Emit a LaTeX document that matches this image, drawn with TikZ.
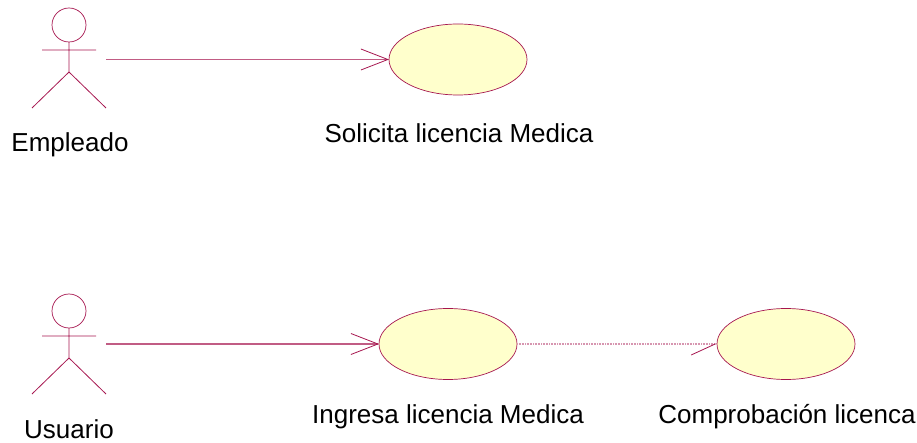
\documentclass[tikz,border=0pt]{standalone}
\usepackage{fontspec}
\setmainfont{Liberation Sans}
\usepackage{xcolor}
\definecolor{umlvien}{HTML}{A6164F}
\definecolor{umlnen}{HTML}{FFFFCC}
\def\mauvien{umlvien}
\def\maunen{umlnen}
\usetikzlibrary{shapes,arrows.meta}
\tikzset{
	usecase/.style={shape=ellipse,draw=\mauvien,fill=\maunen,line width=.7pt,minimum width=138pt,minimum height=71pt,inner sep=0pt,outer sep=0pt},
	head/.style={shape=circle,draw=\mauvien,line width=.7pt,minimum size=34pt,inner sep=0pt,outer sep=0pt},
	limb/.style={draw=\mauvien,line width=.8pt},
	assoc/.style={draw=\mauvien!70,line width=1.2pt,-{Straight Barb[length=27pt,width=21pt,line width=.8pt,\mauvien]}},
	depend/.style={draw=\mauvien!45,line width=1.1pt,dash pattern=on 1pt off .6pt,-{Straight Barb[harpoon,swap,length=24pt,width=22pt,line width=.8pt,\mauvien]}},
	caption/.style={font=\fontsize{26}{30}\selectfont,inner sep=0pt,text=black,anchor=base}
}
\begin{document}
\begin{tikzpicture}[x=1pt,y=-1pt]
		\useasboundingbox (0,0) rectangle (917,443);
		\path (106,59.5) coordinate (E) (106,344) coordinate (U);
		\node [head] (empleado) at (69,25) {};
		\node [head] (usuario) at (69,311) {};
		\draw[limb] (empleado.south) -- (69,72) -- (32,108) (69,72) -- (106,108) (42,50) -- (96,50);
		\draw[limb] (usuario.south) -- (69,358) -- (32,394) (69,358) -- (106,394) (42,336) -- (96,336);
		\node [usecase] (solicita) at (458,59.5) {};
		\node [usecase] (ingresa) at (448,344) {};
		\node [usecase] (comprueba) at (786,344) {};
		\draw[assoc] (E) -- (solicita);
		\draw[assoc] (U) -- (ingresa);
		\draw[depend] (ingresa) -- (comprueba);
		\node [caption] (templeado) at (70,152) {Empleado};
		\node [caption] (tsolicita) at (459,143) {Solicita licencia Medica};
		\node [caption] (tusuario) at (69,438) {Usuario};
		\node [caption] (tingresa) at (448,423) {Ingresa licencia Medica};
		\node [caption] (tcomprueba) at (787,423) {Comprobación licenca};
	\end{tikzpicture}
\end{document}
